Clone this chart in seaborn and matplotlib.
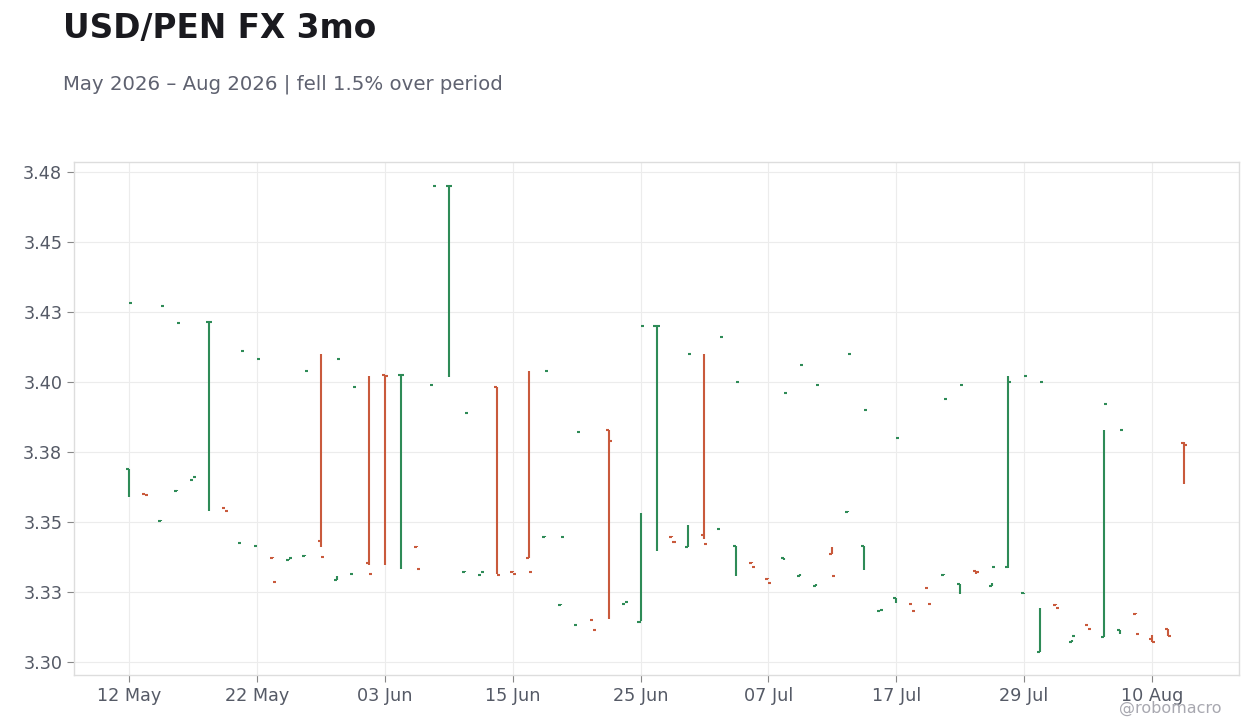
import numpy as np
import pandas as pd
import seaborn as sns
import matplotlib.pyplot as plt
from matplotlib.ticker import FuncFormatter

# daily bars, 12 May - 12 Aug 2026 (weekdays only)
dates = pd.bdate_range("2026-05-12", "2026-08-12")

opens = [3.3688, 3.3599, 3.3505, 3.3612, 3.3650, 3.4214, 3.3551, 3.3426, 3.3415, 3.3373,
         3.3366, 3.3380, 3.3432, 3.3294, 3.3315, 3.3355, 3.4026, 3.4025, 3.3412, 3.3990,
         3.4700, 3.3323, 3.3311, 3.3983, 3.3323, 3.3373, 3.3448, 3.3205, 3.3133, 3.3151,
         3.3830, 3.3208, 3.3143, 3.4200, 3.3448, 3.3412, 3.3455, 3.3476, 3.3414, 3.3355,
         3.3298, 3.3373, 3.3308, 3.3272, 3.3386, 3.3537, 3.3414, 3.3183, 3.3230, 3.3208,
         3.3265, 3.3312, 3.3280, 3.3326, 3.3272, 3.3340, 3.3248, 3.3037, 3.3205, 3.3073,
         3.3133, 3.3090, 3.3113, 3.3173, 3.3083, 3.3117, 3.3781]
highs = [3.3688, 3.3600, 3.3506, 3.3613, 3.3651, 3.4216, 3.3552, 3.3427, 3.3416, 3.3374,
         3.3367, 3.3381, 3.4100, 3.3306, 3.3316, 3.4021, 3.4026, 3.4026, 3.3414, 3.3991,
         3.4701, 3.3324, 3.3312, 3.3981, 3.3324, 3.4039, 3.3449, 3.3206, 3.3134, 3.3152,
         3.3829, 3.3209, 3.3531, 3.4201, 3.3449, 3.3489, 3.4100, 3.3477, 3.3414, 3.3356,
         3.3299, 3.3373, 3.3314, 3.3280, 3.3411, 3.3538, 3.3414, 3.3184, 3.3230, 3.3209,
         3.3266, 3.3313, 3.3280, 3.3326, 3.3281, 3.4021, 3.3248, 3.3192, 3.3206, 3.3079,
         3.3134, 3.3828, 3.3113, 3.3174, 3.3096, 3.3119, 3.3786]
lows = [3.3589, 3.3597, 3.3504, 3.3611, 3.3649, 3.3540, 3.3550, 3.3425, 3.3414, 3.3372,
        3.3365, 3.3379, 3.3412, 3.3293, 3.3314, 3.3348, 3.3348, 3.3333, 3.3410, 3.3989,
        3.4019, 3.3322, 3.3310, 3.3314, 3.3322, 3.3373, 3.3447, 3.3204, 3.3132, 3.3150,
        3.3153, 3.3207, 3.3146, 3.3398, 3.3447, 3.3412, 3.3440, 3.3475, 3.3308, 3.3354,
        3.3297, 3.3366, 3.3307, 3.3271, 3.3386, 3.3536, 3.3330, 3.3182, 3.3212, 3.3207,
        3.3264, 3.3311, 3.3244, 3.3313, 3.3271, 3.3335, 3.3242, 3.3037, 3.3204, 3.3072,
        3.3132, 3.3090, 3.3102, 3.3172, 3.3071, 3.3093, 3.3637]
closes = [3.4283, 3.3597, 3.4273, 3.4212, 3.3662, 3.4216, 3.3540, 3.4112, 3.4083, 3.3287,
          3.3373, 3.4040, 3.3376, 3.4083, 3.3983, 3.3315, 3.4022, 3.4026, 3.3333, 3.4701,
          3.4701, 3.3890, 3.3323, 3.3311, 3.3314, 3.3323, 3.4040, 3.3448, 3.3823, 3.3115,
          3.3789, 3.3215, 3.4201, 3.4201, 3.3429, 3.4101, 3.3421, 3.4161, 3.4000, 3.3339,
          3.3283, 3.3962, 3.4062, 3.3990, 3.3308, 3.4101, 3.3901, 3.3187, 3.3801, 3.3183,
          3.3208, 3.3940, 3.3990, 3.3321, 3.3340, 3.4001, 3.4022, 3.4001, 3.3194, 3.3094,
          3.3119, 3.3922, 3.3830, 3.3101, 3.3071, 3.3093, 3.3776]

up_color = "#2e8b57"
down_color = "#c95a3c"

sns.set_theme(style="whitegrid", rc={
    "grid.color": "#ececec",
    "axes.edgecolor": "#dddddd",
    "axes.linewidth": 1.0,
})
plt.rcParams["font.family"] = ["DejaVu Sans"]

df = pd.DataFrame({"date": dates, "open": opens, "high": highs,
                   "low": lows, "close": closes})
df["x"] = np.arange(len(df))
df["color"] = np.where(df["close"] >= df["open"], up_color, down_color)

fig = plt.figure(figsize=(12.6, 7.28), dpi=100)
ax = fig.add_axes([74 / 1260, 1 - 675 / 728, (1239 - 74) / 1260, (675 - 162) / 728])

w = 0.19
ax.vlines(df["x"], df["low"], df["high"], colors=df["color"], linewidth=1.5)
ax.hlines(df["open"], df["x"] - w, df["x"], colors=df["color"], linewidth=1.5)
ax.hlines(df["close"], df["x"], df["x"] + w, colors=df["color"], linewidth=1.5)

ax.set_xlim(-3.45, 69.45)
ax.set_ylim(3.2954, 3.4786)

ax.set_yticks(np.arange(3.30, 3.4751, 0.025))
ax.yaxis.set_major_formatter(FuncFormatter(lambda v, p: f"{np.floor(v * 100 + 0.5 + 1e-9) / 100:.2f}"))
ax.set_xticks(df["x"][::8])
ax.set_xticklabels([d.strftime("%d %b") for d in df["date"][::8]])

ax.tick_params(axis="both", labelsize=12.7, length=5, width=0.8,
               direction="out", bottom=True, left=True)
ax.tick_params(axis="x", colors="#888888", labelcolor="#555a66")
ax.tick_params(axis="y", colors="#888888", labelcolor="#555a66")
ax.grid(True, color="#ececec", linewidth=0.8)
ax.set_xlabel("")
ax.set_ylabel("")
for s in ax.spines.values():
    s.set_color("#dddddd")

fig.text(63 / 1260, 1 - 12 / 728, "USD/PEN FX 3mo", fontsize=23.6, fontweight="bold",
         color="#1a1a1f", va="top", ha="left")
fig.text(63 / 1260, 1 - 75 / 728, "May 2026 \u2013 Aug 2026 | fell 1.5% over period",
         fontsize=14.2, color="#5f6270", va="top", ha="left")
fig.text(1222 / 1260, 1 - 713 / 728, "@robomacro", fontsize=11.5, color="#a8a8b0",
         va="baseline", ha="right")

fig.savefig("out.png", dpi=100)
